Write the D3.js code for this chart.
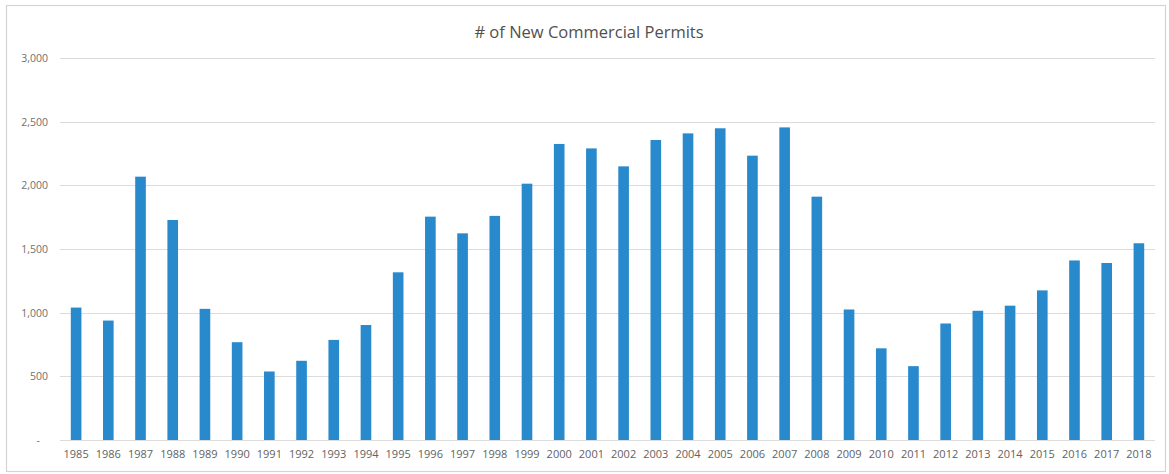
<!DOCTYPE html>
<html>
<head>
<meta charset="utf-8">
<script src="https://cdnjs.cloudflare.com/ajax/libs/d3/7.8.5/d3.min.js"></script>
<style>
  body { margin: 0; background: #fff; }
  text { font-family: "Open Sans", sans-serif; }
</style>
</head>
<body>
<div id="chart"></div>
<script>
// data
var years = ["1985", "1986", "1987", "1988", "1989", "1990", "1991", "1992", "1993", "1994",
  "1995", "1996", "1997", "1998", "1999", "2000", "2001", "2002", "2003", "2004",
  "2005", "2006", "2007", "2008", "2009", "2010", "2011", "2012", "2013", "2014",
  "2015", "2016", "2017", "2018"];
var permits = [1040, 938, 2068, 1728, 1030, 768, 538, 622, 786, 903,
  1317, 1754, 1623, 1760, 2013, 2325, 2290, 2149, 2356, 2408,
  2448, 2233, 2455, 1911, 1025, 720, 580, 915, 1015, 1055,
  1175, 1410, 1390, 1545];
var yTicks = [0, 500, 1000, 1500, 2000, 2500, 3000];
var yTickLabels = ["-", "500", "1,000", "1,500", "2,000", "2,500", "3,000"];
var title = "# of New Commercial Permits";

var svgWidth = 1169;
var svgHeight = 474;

var margin = { top: 58, right: 14, bottom: 34, left: 60 };

var svg = d3.select("#chart")
  .append("svg")
  .attr("width", svgWidth)
  .attr("height", svgHeight);

// outer chart border
svg.append("rect")
  .attr("x", 6.5)
  .attr("y", 5.5)
  .attr("width", 1159)
  .attr("height", 466)
  .attr("fill", "none")
  .attr("stroke", "#d4d4d4")
  .attr("stroke-width", 1.2);

var xScale = d3.scaleBand()
  .domain(years)
  .range([margin.left, svgWidth - margin.right])
  .paddingInner(0.67)
  .paddingOuter(0.335);

var yScale = d3.scaleLinear()
  .domain([0, 3000])
  .range([svgHeight - margin.bottom, margin.top]);

// gridlines
svg.append("g")
  .selectAll("line")
  .data(yTicks)
  .enter()
  .append("line")
  .attr("x1", margin.left)
  .attr("x2", svgWidth - margin.right)
  .attr("y1", d => Math.round(yScale(d)) + 0.5)
  .attr("y2", d => Math.round(yScale(d)) + 0.5)
  .attr("stroke", "#dcdcdc")
  .attr("stroke-width", 1);

// y axis labels
var leftAxis = d3.axisLeft(yScale)
  .tickValues(yTicks)
  .tickSize(0)
  .tickPadding(0)
  .tickFormat((d, i) => yTickLabels[i]);

var yAxisG = svg.append("g")
  .attr("transform", "translate(48,0)")
  .call(leftAxis);
yAxisG.select(".domain").remove();
yAxisG.selectAll("text")
  .attr("font-size", "10.5px")
  .attr("font-family", "Open Sans")
  .attr("fill", "#707070");
yAxisG.selectAll(".tick")
  .filter(d => d === 0)
  .select("text")
  .attr("x", -8);

// bars
svg.append("g")
  .selectAll("rect")
  .data(permits)
  .enter()
  .append("rect")
  .attr("x", (d, i) => xScale(years[i]))
  .attr("y", d => yScale(d))
  .attr("width", xScale.bandwidth())
  .attr("height", d => yScale(0) - yScale(d))
  .attr("fill", "#2889cc");

// x axis labels
var bottomAxis = d3.axisBottom(xScale)
  .tickSize(0)
  .tickPadding(10);

var xAxisG = svg.append("g")
  .attr("transform", "translate(0," + yScale(0) + ")")
  .call(bottomAxis);
xAxisG.select(".domain").remove();
xAxisG.selectAll("text")
  .attr("font-size", "11px")
  .attr("font-family", "Open Sans")
  .attr("fill", "#626262");

// title
svg.append("text")
  .attr("x", 589)
  .attr("y", 38)
  .attr("text-anchor", "middle")
  .attr("font-size", "16.5px")
  .attr("fill", "#505050")
  .text(title);
</script>
</body>
</html>
